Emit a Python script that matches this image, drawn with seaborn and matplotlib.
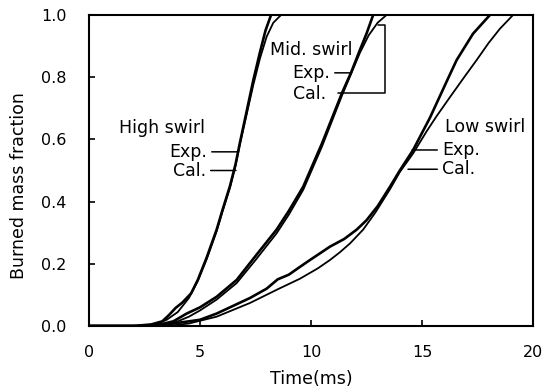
import matplotlib
matplotlib.use("Agg")
import matplotlib.pyplot as plt
import seaborn as sns
import pandas as pd

# ---- data ----
high_exp_t = [0, 2.0, 2.8, 3.3, 3.6, 3.9, 4.2, 4.6, 4.9, 5.3, 5.75, 6.0, 6.35, 6.6, 6.8, 7.1, 7.4, 7.7, 7.95, 8.2]
high_exp_f = [0, 0, 0.005, 0.015, 0.035, 0.058, 0.075, 0.105, 0.148, 0.22, 0.31, 0.37, 0.45, 0.52, 0.59, 0.69, 0.79, 0.88, 0.95, 1.0]
high_cal_t = [0, 2.5, 3.0, 3.5, 4.0, 4.5, 4.9, 5.3, 5.75, 6.0, 6.35, 6.6, 6.8, 7.1, 7.4, 7.7, 8.0, 8.3, 8.65]
high_cal_f = [0, 0, 0.005, 0.02, 0.045, 0.09, 0.145, 0.215, 0.305, 0.365, 0.445, 0.515, 0.585, 0.68, 0.775, 0.86, 0.93, 0.975, 1.0]

mid_exp_t = [0, 2.5, 3.2, 3.8, 4.4, 5.0, 5.75, 6.65, 7.5, 8.45, 9.0, 9.65, 10.5, 11.4, 11.8, 12.2, 12.5, 12.8]
mid_exp_f = [0, 0, 0.005, 0.015, 0.04, 0.06, 0.094, 0.148, 0.225, 0.31, 0.37, 0.448, 0.588, 0.75, 0.814, 0.887, 0.94, 1.0]
mid_cal_t = [0, 3.0, 3.5, 4.0, 4.5, 5.0, 5.75, 6.65, 7.5, 8.45, 9.0, 9.65, 10.5, 11.4, 12.2, 12.6, 13.0, 13.4]
mid_cal_f = [0, 0, 0.005, 0.015, 0.03, 0.05, 0.085, 0.138, 0.212, 0.298, 0.358, 0.438, 0.578, 0.742, 0.878, 0.935, 0.975, 1.0]

low_exp_t = [0, 3.0, 3.5, 4.5, 5.0, 5.75, 6.5, 7.25, 8.0, 8.5, 9.0, 9.5, 9.95, 10.85, 11.5, 12.06, 12.5, 13.0, 13.56, 14.0, 14.6, 15.36, 16.2, 16.56, 17.3, 18.06]
low_exp_f = [0, 0, 0.005, 0.015, 0.02, 0.04, 0.065, 0.09, 0.12, 0.15, 0.165, 0.19, 0.212, 0.255, 0.28, 0.31, 0.34, 0.385, 0.448, 0.5, 0.566, 0.67, 0.8, 0.855, 0.94, 1.0]
low_cal_t = [0, 3.5, 4.5, 5.75, 7.25, 8.5, 9.5, 10.3, 10.85, 11.3, 11.75, 12.35, 12.9, 13.56, 14.0, 14.6, 15.2, 15.66, 16.3, 16.9, 17.46, 18.0, 18.5, 19.1]
low_cal_f = [0, 0, 0.008, 0.03, 0.074, 0.118, 0.152, 0.185, 0.212, 0.237, 0.265, 0.31, 0.365, 0.44, 0.495, 0.555, 0.625, 0.675, 0.74, 0.8, 0.855, 0.91, 0.955, 1.0]

x_ticks = [0, 5, 10, 15, 20]
x_tick_labels = ["0", "5", "10", "15", "20"]
y_ticks = [0.0, 0.2, 0.4, 0.6, 0.8, 1.0]
y_tick_labels = ["0.0", "0.2", "0.4", "0.6", "0.8", "1.0"]

series = [
    ("High", "Exp.", high_exp_t, high_exp_f),
    ("High", "Cal.", high_cal_t, high_cal_f),
    ("Mid", "Exp.", mid_exp_t, mid_exp_f),
    ("Mid", "Cal.", mid_cal_t, mid_cal_f),
    ("Low", "Exp.", low_exp_t, low_exp_f),
    ("Low", "Cal.", low_cal_t, low_cal_f),
]

sns.set_theme(style="white")
plt.rcParams["font.family"] = ["DejaVu Sans"]
plt.rcParams["text.color"] = "black"
plt.rcParams["axes.labelcolor"] = "black"
plt.rcParams["xtick.color"] = "black"
plt.rcParams["ytick.color"] = "black"

fig = plt.figure(figsize=(5.54, 3.91), dpi=100)
ax = fig.add_axes([89 / 554, 65 / 391, 444 / 554, 311 / 391])

for swirl, kind, t, f in series:
    df = pd.DataFrame({"t": t, "f": f})
    sns.lineplot(data=df, x="t", y="f", ax=ax, color="black",
                 lw=1.9 if kind == "Exp." else 1.3, legend=False)

ax.set_xlim(0, 20)
ax.set_ylim(0, 1.0)
ax.set_xticks(x_ticks)
ax.set_xticklabels(x_tick_labels)
ax.set_yticks(y_ticks)
ax.set_yticklabels(y_tick_labels)
ax.tick_params(axis="both", direction="in", length=4, width=1.2, colors="black",
               labelcolor="black", labelsize=11.5, left=True, bottom=True)
ax.tick_params(axis="y", pad=16)
ax.tick_params(axis="x", pad=14)
for s in ax.spines.values():
    s.set_color("black")
    s.set_linewidth(1.5)

ax.set_xlabel("Time(ms)", fontsize=12.5, color="black")
ax.set_ylabel("Burned mass fraction", fontsize=12.5, color="black")
ax.xaxis.set_label_coords(0.5, -0.141)
ax.yaxis.set_label_coords(-0.138, 0.453)

fs = 12.5
leader = dict(arrowstyle="-", lw=1.1, color="black", shrinkA=1, shrinkB=0)

# High swirl labels
ax.text(5.23, 0.637, "High swirl", ha="right", va="center", fontsize=fs, color="black")
ax.annotate("Exp.", xy=(6.67, 0.56), xytext=(5.32, 0.56), ha="right", va="center",
            fontsize=fs, color="black", arrowprops=dict(leader, relpos=(1, 0.5)))
ax.annotate("Cal.", xy=(6.62, 0.50), xytext=(5.27, 0.50), ha="right", va="center",
            fontsize=fs, color="black", arrowprops=dict(leader, relpos=(1, 0.5)))

# Mid swirl labels
ax.text(11.89, 0.887, "Mid. swirl", ha="right", va="center", fontsize=fs, color="black")
ax.annotate("Exp.", xy=(11.8, 0.814), xytext=(10.86, 0.814), ha="right", va="center",
            fontsize=fs, color="black", arrowprops=dict(leader, relpos=(1, 0.5)))
ax.text(10.68, 0.745, "Cal.", ha="right", va="center", fontsize=fs, color="black")
bracket_x = [11.2, 13.33, 13.33, 13.0]
bracket_y = [0.750, 0.750, 0.968, 0.968]
ax.plot(bracket_x, bracket_y, color="black", lw=1.1)

# Low swirl labels
ax.text(16.04, 0.641, "Low swirl", ha="left", va="center", fontsize=fs, color="black")
ax.annotate("Exp.", xy=(14.55, 0.566), xytext=(15.9, 0.566), ha="left", va="center",
            fontsize=fs, color="black", arrowprops=dict(leader, relpos=(0, 0.5)))
ax.annotate("Cal.", xy=(14.37, 0.504), xytext=(15.9, 0.504), ha="left", va="center",
            fontsize=fs, color="black", arrowprops=dict(leader, relpos=(0, 0.5)))

fig.savefig("out.png", dpi=100, facecolor="white")
